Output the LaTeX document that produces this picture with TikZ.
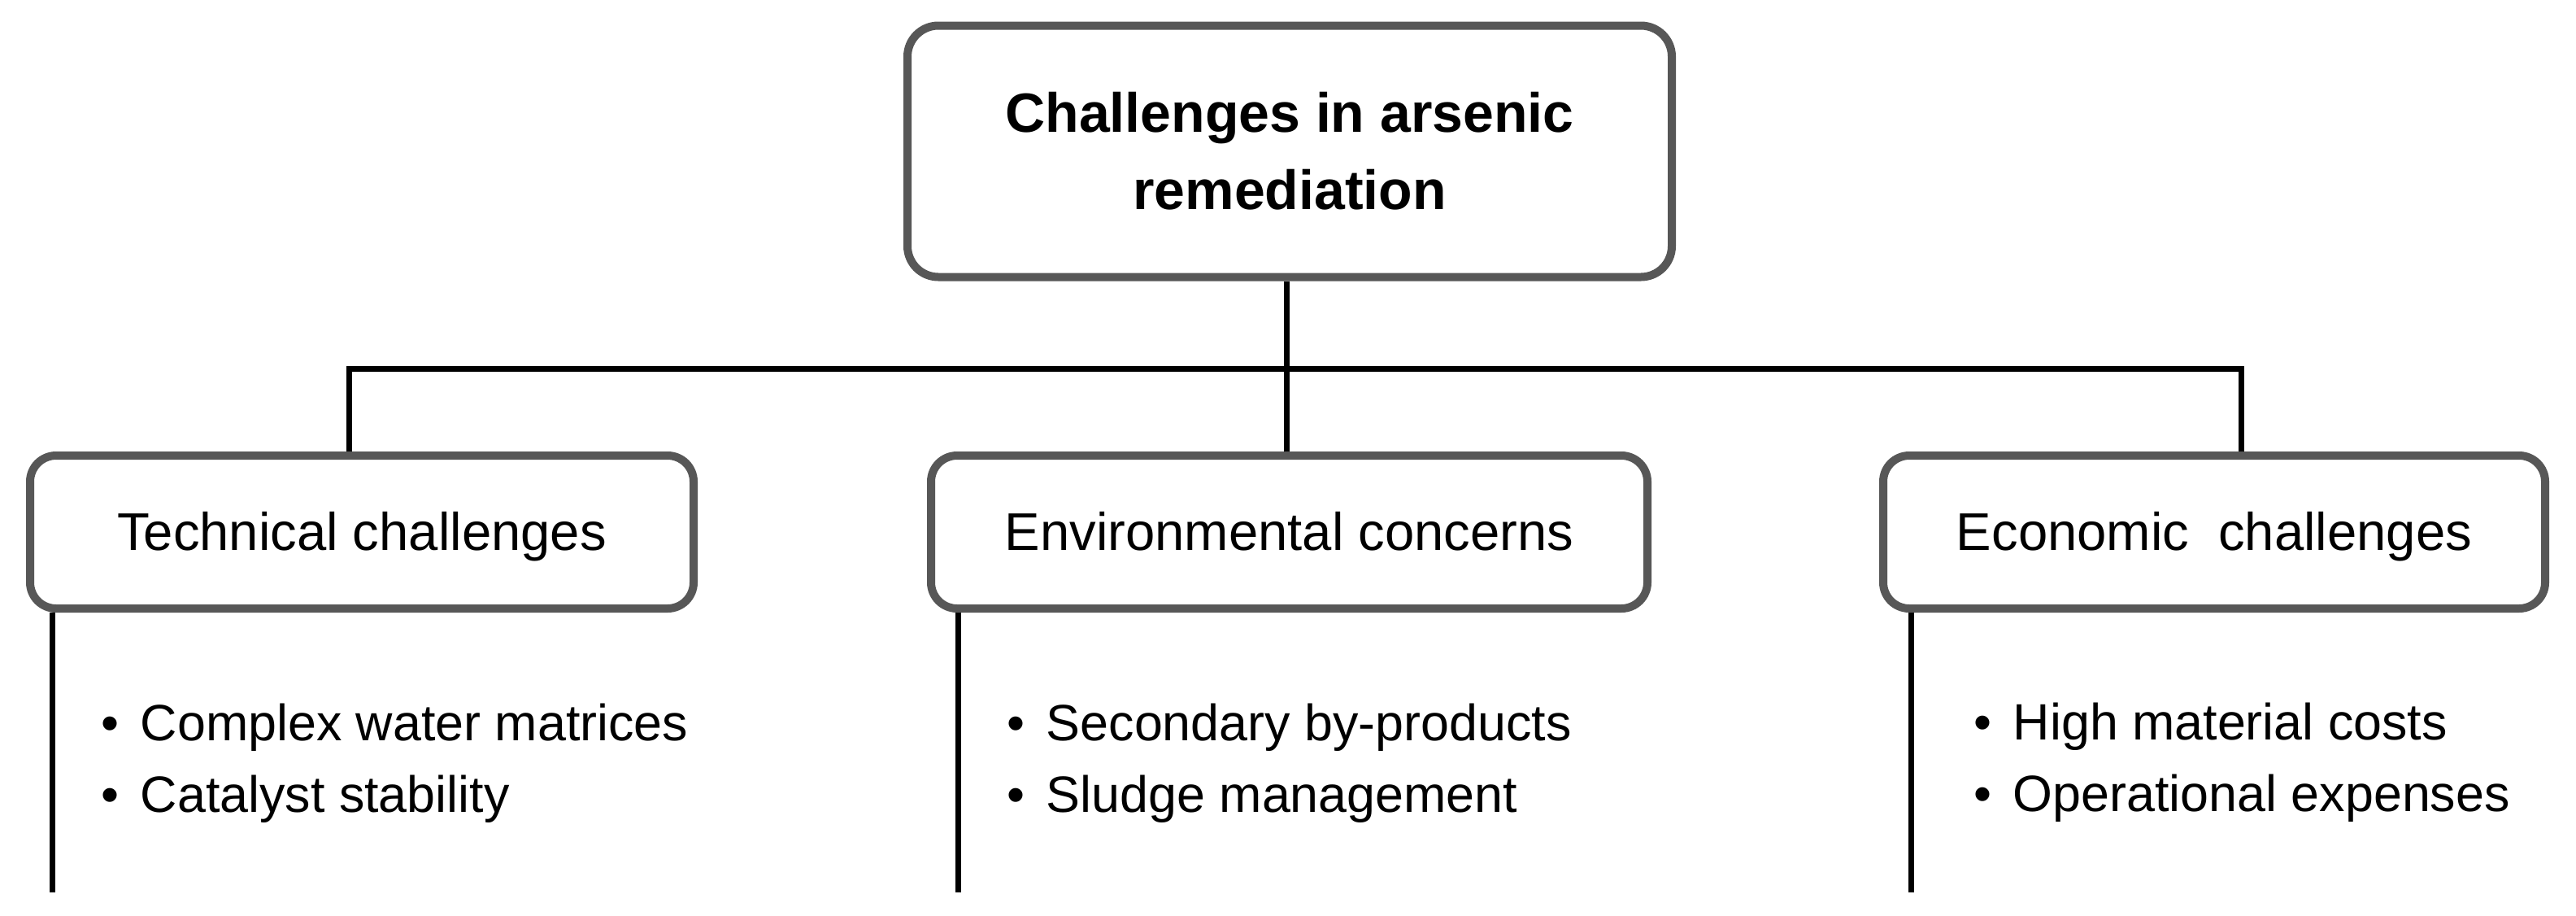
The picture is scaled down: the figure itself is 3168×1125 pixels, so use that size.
\documentclass[tikz,border=0pt]{standalone}
\usepackage{fontspec}
\setmainfont{Liberation Sans}
\usetikzlibrary{backgrounds}
\definecolor{boxgray}{HTML}{575757}
\tikzset{
  x=0.25pt, y=-0.25pt,
  box/.style={draw=boxgray, line width=2.5pt, fill=white, rounded corners=8pt,
    inner sep=0pt, minimum height=47pt, align=center,
    text height=11.7pt, text depth=0.7pt,
    font=\fontsize{16.3}{20}\selectfont},
  titlebox/.style={draw=boxgray, line width=2.5pt, fill=white, rounded corners=9.5pt,
    inner sep=0pt, minimum width=235pt, minimum height=77.25pt, align=center,
    font=\fontsize{17}{23.75}\selectfont\bfseries},
  conn/.style={draw=black, line width=1.75pt, line join=miter},
  list/.style={anchor=base west, inner sep=0pt, font=\fontsize{15.7}{22}\selectfont}
}
\newcommand{\itm}[1]{\makebox[12pt][l]{•}#1}
\begin{document}
\begin{tikzpicture}
\useasboundingbox (0,0) rectangle (3168,1125);
% boxes
\node[titlebox] (main) at (1586,186) {Challenges in arsenic\\remediation};
\node[box, minimum width=204pt] (tech) at (445,654) {Technical challenges};
\node[box, minimum width=220.25pt] (env) at (1585.5,654) {Environmental concerns};
\node[box, minimum width=203.5pt] (econ) at (2723,654) {Economic\ \ challenges};
% bullet lists
\node[list] (techl) at (124,910) {\begin{tabular}[t]{@{}l@{}}\itm{Complex water matrices}\\\itm{Catalyst stability}\end{tabular}};
\node[list] (envl) at (1238,910) {\begin{tabular}[t]{@{}l@{}}\itm{Secondary by-products}\\\itm{Sludge management}\end{tabular}};
\node[list] (econl) at (2427,909) {\begin{tabular}[t]{@{}l@{}}\itm{High material costs}\\\itm{Operational expenses}\end{tabular}};
% connector coordinates
\coordinate (junc) at (1582,453);
\coordinate (tl) at (429,453);
\coordinate (tr) at (2756,453);
\coordinate (tb) at (64,1097);
\coordinate (eb) at (1178,1097);
\coordinate (cb) at (2350,1097);
\begin{scope}[on background layer]
\fill[white] (0,0) rectangle (3168,1125);
\draw[conn] (main.south -| junc) -- (env.north -| junc);
\draw[conn] (tech.north -| tl) -- (tl) -- (tr) -- (econ.north -| tr);
\draw[conn] (tech.south -| tb) -- (tb);
\draw[conn] (env.south -| eb) -- (eb);
\draw[conn] (econ.south -| cb) -- (cb);
\end{scope}
\end{tikzpicture}
\end{document}
